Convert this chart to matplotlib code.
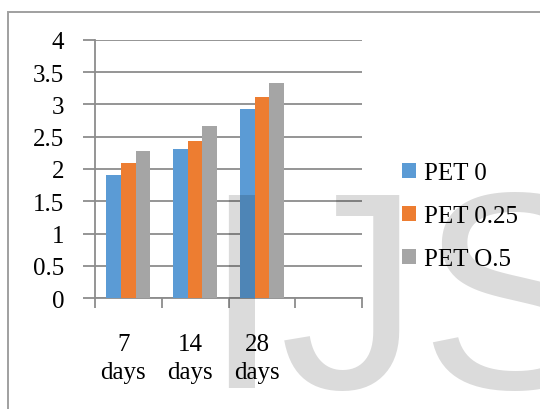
import matplotlib
matplotlib.use("Agg")
import matplotlib.pyplot as plt
from matplotlib.patches import Rectangle, Patch
from matplotlib.transforms import ScaledTranslation
import numpy as np

categories = ["7\ndays", "14\ndays", "28\ndays"]
series_names = ["PET 0", "PET 0.25", "PET O.5"]
pet_0 = [1.91, 2.31, 2.93]
pet_025 = [2.10, 2.44, 3.12]
pet_05 = [2.28, 2.66, 3.33]
y_ticks = [0, 0.5, 1, 1.5, 2, 2.5, 3, 3.5, 4]
y_tick_labels = ["0", "0.5", "1", "1.5", "2", "2.5", "3", "3.5", "4"]

colors = ["#5B9BD5", "#ED7D31", "#A5A5A5"]
W, H, DPI = 540, 410, 100
FS = 18
plt.rcParams['font.family'] = ['Liberation Serif', 'DejaVu Serif']

fig = plt.figure(figsize=(W / DPI, H / DPI), dpi=DPI)
ax = fig.add_axes([95 / W, 1 - 299.3 / H, (362 - 95) / W, (299.3 - 40.7) / H])

n_slots = 4
x = np.arange(len(categories))
bw = 0.22
for k, (vals, name) in enumerate(zip([pet_0, pet_025, pet_05], series_names)):
    ax.bar(x + (k - 1) * bw, vals, width=bw, color=colors[k], label=name, zorder=3)

ax.set_xlim(-0.5, n_slots - 0.5)
ax.set_ylim(0, 4)
ax.set_yticks(y_ticks)
ax.set_yticklabels(y_tick_labels, fontsize=FS)
ax.yaxis.grid(True, color="#8c8c8c", linewidth=1.3, zorder=0)
ax.set_axisbelow(True)

ax.set_xticks(np.arange(-0.5, n_slots, 1.0))
ax.set_xticklabels([])
ax.set_xticks(x, minor=True)
ax.set_xticklabels(categories, minor=True, fontsize=FS, linespacing=1.35)
ax.tick_params(axis="x", which="major", length=7, width=1.3, color="#8c8c8c", direction="out")
ax.tick_params(axis="x", which="minor", length=0, pad=25)
ax.tick_params(axis="y", length=9, width=1.3, color="#8c8c8c", pad=13)

for lab in ax.get_xticklabels(minor=True):
    lab.set_transform(lab.get_transform() + ScaledTranslation(-5 / DPI, 0, fig.dpi_scale_trans))

for s in ["top", "right"]:
    ax.spines[s].set_visible(False)
for s in ["left", "bottom"]:
    ax.spines[s].set_color("#8c8c8c")
    ax.spines[s].set_linewidth(1.3)

handles = [Patch(facecolor=c, edgecolor="none") for c in colors]
fig.legend(handles, series_names, loc="upper left", bbox_to_anchor=(402 / W, 1 - 163 / H),
           frameon=False, fontsize=FS, handlelength=0.55, handleheight=0.55,
           handletextpad=0.35, labelspacing=0.85, borderpad=0, borderaxespad=0)

# outer border (partially clipped)
fig.add_artist(Rectangle((8 / W, -0.2), 1.5, (H - 13) / H + 0.2, transform=fig.transFigure,
                         fill=False, edgecolor="#a0a0a0", linewidth=1.4, zorder=0))

# watermark
fig.text(202 / W, 1 - 388 / H, "IJS", fontsize=202, family="Liberation Sans",
         color="black", alpha=0.14, ha="left", va="baseline", zorder=10)

fig.savefig("out.png", dpi=DPI)
